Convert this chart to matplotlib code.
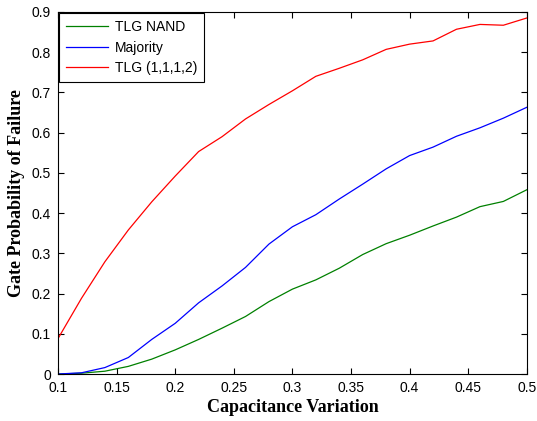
import matplotlib
matplotlib.use("Agg")
import matplotlib.pyplot as plt

x = [0.10, 0.12, 0.14, 0.16, 0.18, 0.20, 0.22, 0.24, 0.26, 0.28, 0.30,
     0.32, 0.34, 0.36, 0.38, 0.40, 0.42, 0.44, 0.46, 0.48, 0.50]
tlg_nand = [0.0, 0.002, 0.007, 0.019, 0.037, 0.060, 0.086, 0.114, 0.143, 0.180, 0.211,
            0.234, 0.263, 0.297, 0.324, 0.345, 0.368, 0.390, 0.416, 0.429, 0.458]
majority = [0.0, 0.003, 0.016, 0.041, 0.086, 0.126, 0.177, 0.219, 0.265, 0.323, 0.366,
            0.396, 0.435, 0.472, 0.510, 0.543, 0.564, 0.591, 0.612, 0.636, 0.663]
tlg_1112 = [0.088, 0.188, 0.279, 0.358, 0.428, 0.492, 0.553, 0.590, 0.634, 0.670, 0.704,
            0.740, 0.760, 0.781, 0.807, 0.820, 0.828, 0.857, 0.869, 0.867, 0.885]

xticks = [0.1, 0.15, 0.2, 0.25, 0.3, 0.35, 0.4, 0.45, 0.5]
xticklabels = ["0.1", "0.15", "0.2", "0.25", "0.3", "0.35", "0.4", "0.45", "0.5"]
yticks = [0, 0.1, 0.2, 0.3, 0.4, 0.5, 0.6, 0.7, 0.8, 0.9]
yticklabels = ["0", "0.1", "0.2", "0.3", "0.4", "0.5", "0.6", "0.7", "0.8", "0.9"]

plt.rcParams['font.family'] = ['Liberation Sans', 'DejaVu Sans']

fig = plt.figure(figsize=(5.37, 4.21), dpi=100)
ax = fig.add_axes([0.108, 0.1116, 0.873, 0.86])

ax.plot(x, tlg_nand, color='#008000', lw=0.9, label='TLG NAND')
ax.plot(x, majority, color='#0000ff', lw=0.9, label='Majority')
ax.plot(x, tlg_1112, color='#ff0000', lw=0.9, label='TLG (1,1,1,2)')

ax.set_xlim(0.1, 0.5)
ax.set_ylim(0, 0.9)
ax.set_xticks(xticks)
ax.set_xticklabels(xticklabels)
ax.set_yticks(yticks)
ax.set_yticklabels(yticklabels)
ax.tick_params(direction='in', top=True, right=True, labelsize=10, length=4, width=0.8)
ax.tick_params(axis='x', pad=5)
ax.tick_params(axis='y', pad=5)
for s in ax.spines.values():
    s.set_linewidth(0.8)

ax.set_xlabel('Capacitance Variation', family='Liberation Serif', fontweight='bold', fontsize=13, labelpad=3)
ax.set_ylabel('Gate Probability of Failure', family='Liberation Serif', fontweight='bold', fontsize=13, labelpad=5)

leg = ax.legend(loc='upper left', fontsize=10, fancybox=False, framealpha=1,
                edgecolor='black', borderaxespad=0.1, handlelength=3.0,
                labelspacing=0.45, borderpad=0.5, handletextpad=0.5)
leg.get_frame().set_linewidth(0.8)

fig.savefig('out.png', dpi=100)
